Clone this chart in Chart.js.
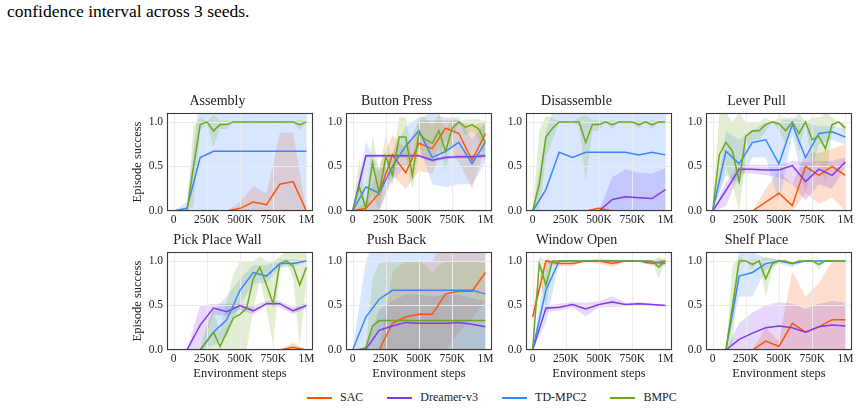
<!DOCTYPE html>
<html>
<head>
<meta charset="utf-8">
<script src="https://cdn.jsdelivr.net/npm/chart.js@4.4.1/dist/chart.umd.min.js"></script>
<style>
  body { margin: 0; width: 859px; height: 409px; background: #fff; position: relative; overflow: hidden; font-family: "Liberation Serif", serif; }
  canvas { position: absolute; }
  #caption { position: absolute; left: 7px; top: 1px; font-size: 17.5px; line-height: 20px; color: #000; white-space: nowrap; }
  #legend { position: absolute; left: 307px; top: 389px; display: flex; gap: 24px; font-size: 12px; color: #222; }
  .item { display: flex; align-items: center; gap: 8px; height: 17px; }
  .swatch { width: 25px; height: 2px; }
</style>
</head>
<body>
<div id="caption">confidence interval across 3 seeds.</div>
<div id="legend"></div>
<script>
// series
const seriesNames = ['SAC', 'Dreamer-v3', 'TD-MPC2', 'BMPC'];
const seriesColors = ['#fb5607', '#8338ec', '#3a86ff', '#6ca81e'];

// env steps (thousands); BMPC is logged every 50K, the baselines every 100K
const steps = [0, 100, 200, 300, 400, 500, 600, 700, 800, 900, 1000];
const stepsFine = [0, 50, 100, 150, 200, 250, 300, 350, 400, 450, 500, 550, 600, 650, 700, 750, 800, 850, 900, 950, 1000];
const xTicks = [0, 250, 500, 750, 1000];
const xTickLabels = ['0', '250K', '500K', '750K', '1M'];
const yTicks = [0, 0.5, 1.0];

// Assembly
const assemblySac     = [0, 0, 0, 0, 0, 0.03, 0.10, 0.07, 0.30, 0.33, 0];
const assemblySacLo   = [0, 0, 0, 0, 0, 0, 0, 0, 0, 0, 0];
const assemblySacHi   = [0, 0, 0, 0, 0, 0.10, 0.28, 0.20, 0.88, 0.88, 0];
const assemblyDv3     = [0, 0, 0, 0, 0, 0, 0, 0, 0, 0, 0];
const assemblyDv3Lo   = [0, 0, 0, 0, 0, 0, 0, 0, 0, 0, 0];
const assemblyDv3Hi   = [0, 0, 0, 0, 0, 0, 0, 0, 0, 0, 0];
const assemblyTd      = [0, 0.03, 0.60, 0.67, 0.67, 0.67, 0.67, 0.67, 0.67, 0.67, 0.67];
const assemblyTdLo    = [0, 0, 0, 0, 0, 0, 0, 0, 0, 0, 0];
const assemblyTdHi    = [0, 0.10, 1.33, 1.33, 1.33, 1.33, 1.33, 1.33, 1.33, 1.33, 1.33];
const assemblyBmpc    = [0, 0, 0, 0.50, 0.97, 1, 0.90, 0.97, 0.97, 1, 1, 1, 1, 1, 1, 1, 1, 1, 1, 0.97, 1];
const assemblyBmpcLo  = [0, 0, 0, 0.05, 0.90, 1, 0.72, 0.92, 0.92, 1, 1, 1, 1, 1, 1, 1, 1, 1, 1, 0.90, 1];
const assemblyBmpcHi  = [0, 0, 0, 0.95, 1.05, 1, 1.08, 1.02, 1.02, 1, 1, 1, 1, 1, 1, 1, 1, 1, 1, 1.03, 1];

// Button Press
const buttonSac       = [0, 0.03, 0.20, 0.63, 0.43, 0.76, 0.70, 0.93, 0.87, 0.57, 0.87];
const buttonSacLo     = [0, 0, 0, 0.40, 0.25, 0.45, 0.42, 0.80, 0.55, 0.25, 0.70];
const buttonSacHi     = [0, 0.10, 0.50, 0.85, 0.70, 1.02, 1.02, 1.02, 1.02, 0.95, 1.02];
const buttonDv3       = [0, 0.62, 0.62, 0.62, 0.62, 0.62, 0.57, 0.60, 0.61, 0.61, 0.62];
const buttonDv3Lo     = [0, 0.60, 0.60, 0.60, 0.60, 0.60, 0.55, 0.58, 0.59, 0.59, 0.60];
const buttonDv3Hi     = [0, 0.64, 0.64, 0.64, 0.64, 0.64, 0.59, 0.62, 0.63, 0.63, 0.64];
const buttonTd        = [0, 0.27, 0.20, 0.50, 0.73, 0.90, 0.60, 0.67, 0.77, 0.53, 0.77];
const buttonTdLo      = [0, 0, 0, 0.35, 0.50, 0.75, 0.30, 0.27, 0.30, 0.30, 0.55];
const buttonTdHi      = [0, 0.78, 0.45, 0.65, 0.95, 1.05, 1.10, 1.05, 1.05, 0.80, 1.00];
const buttonBmpc      = [0, 0.27, 0.03, 0.54, 0.20, 0.61, 0.40, 0.83, 0.83, 0.40, 0.87, 0.80, 0.76, 0.90, 0.67, 0.93, 1.00, 0.94, 0.97, 0.92, 0.77];
const buttonBmpcLo    = [0, 0, 0, 0.20, 0, 0.40, 0.30, 0.60, 0.60, 0.25, 0.65, 0.60, 0.60, 0.70, 0.45, 0.80, 1.00, 0.85, 0.90, 0.80, 0.55];
const buttonBmpcHi    = [0, 0.60, 0.10, 0.85, 0.45, 0.85, 0.55, 1.05, 1.05, 0.60, 1.05, 1.05, 0.95, 1.10, 0.90, 1.05, 1.00, 1.03, 1.03, 1.03, 1.00];

// Disassemble
const disSac          = [0, 0, 0, 0, 0, 0.03, 0, 0, 0, 0, 0];
const disSacLo        = [0, 0, 0, 0, 0, 0, 0, 0, 0, 0, 0];
const disSacHi        = [0, 0, 0, 0, 0, 0.05, 0, 0, 0, 0, 0];
const disDv3          = [0, 0, 0, 0, 0, 0, 0.13, 0.16, 0.15, 0.14, 0.24];
const disDv3Lo        = [0, 0, 0, 0, 0, 0, 0, 0, 0, 0, 0];
const disDv3Hi        = [0, 0, 0, 0, 0, 0, 0.38, 0.47, 0.43, 0.42, 0.48];
const disTd           = [0, 0.24, 0.66, 0.60, 0.66, 0.66, 0.66, 0.66, 0.63, 0.66, 0.63];
const disTdLo         = [0, 0, 0, 0, 0, 0, 0, 0, 0, 0, 0];
const disTdHi         = [0, 0.90, 1.33, 1.33, 1.33, 1.33, 1.33, 1.33, 1.33, 1.33, 1.33];
const disBmpc         = [0, 0.30, 0.83, 0.93, 1, 1, 1, 1, 0.77, 0.97, 0.97, 1, 0.97, 1, 1, 1, 0.97, 1, 0.97, 1, 1];
const disBmpcLo       = [0, 0, 0.60, 0.80, 1, 1, 1, 0.95, 0.33, 0.90, 0.90, 1, 0.92, 1, 1, 1, 0.92, 1, 0.92, 1, 1];
const disBmpcHi       = [0, 0.90, 1.07, 1.05, 1, 1, 1, 1.05, 1.08, 1.02, 1.02, 1, 1.02, 1, 1, 1, 1.02, 1, 1.02, 1, 1];

// Lever Pull
const leverSac        = [0, 0, 0, 0, 0.10, 0.20, 0.06, 0.50, 0.40, 0.50, 0.40];
const leverSacLo      = [0, 0, 0, 0, 0, 0, 0, 0.20, 0.08, 0.15, 0];
const leverSacHi      = [0, 0, 0, 0, 0.25, 0.45, 0.30, 0.65, 0.65, 0.70, 0.75];
const leverDv3        = [0, 0.23, 0.47, 0.47, 0.46, 0.46, 0.51, 0.33, 0.47, 0.40, 0.55];
const leverDv3Lo      = [0, 0.05, 0.42, 0.42, 0.40, 0.38, 0.30, 0.12, 0.30, 0.25, 0.50];
const leverDv3Hi      = [0, 0.32, 0.52, 0.52, 0.52, 0.52, 0.56, 0.55, 0.56, 0.56, 0.60];
const leverTd         = [0, 0.67, 0.53, 0.77, 0.80, 0.53, 0.97, 0.60, 0.87, 0.89, 0.83];
const leverTdLo       = [0, 0.40, 0.30, 0.60, 0.60, 0.10, 0.85, 0.20, 0.75, 0.80, 0.75];
const leverTdHi       = [0, 0.90, 0.80, 0.90, 1.00, 1.00, 1.05, 1.00, 0.95, 0.95, 0.92];
const leverBmpc       = [0, 0.63, 0.77, 0.67, 0.33, 0.84, 0.90, 0.90, 0.97, 1.00, 0.98, 0.90, 1.00, 0.87, 1.00, 0.80, 0.84, 0.70, 0.97, 1.00, 0.93];
const leverBmpcLo     = [0, 0.20, 0.50, 0.30, 0, 0.60, 0.80, 0.80, 0.90, 1.00, 0.90, 0.75, 1.00, 0.65, 1.00, 0.50, 0.55, 0.30, 0.90, 1.00, 0.85];
const leverBmpcHi     = [0, 1.10, 1.10, 1.00, 1.10, 1.00, 1.00, 1.00, 1.05, 1.00, 1.05, 1.05, 1.00, 1.10, 1.00, 1.05, 1.05, 1.10, 1.05, 1.00, 1.00];

// Pick Place Wall
const pickSac         = [0, 0, 0, 0, 0, 0, 0, 0, 0, 0.03, 0];
const pickSacLo       = [0, 0, 0, 0, 0, 0, 0, 0, 0, 0, 0];
const pickSacHi       = [0, 0, 0, 0, 0, 0, 0, 0, 0, 0.08, 0];
const pickDv3         = [0, 0, 0.28, 0.47, 0.43, 0.50, 0.44, 0.52, 0.52, 0.44, 0.50];
const pickDv3Lo       = [0, 0, 0, 0.40, 0.38, 0.45, 0.40, 0.50, 0.48, 0.40, 0.47];
const pickDv3Hi       = [0, 0, 0.50, 0.52, 0.52, 0.52, 0.50, 0.55, 0.55, 0.48, 0.53];
const pickTd          = [0, 0, 0, 0.20, 0.34, 0.67, 0.87, 0.83, 0.97, 0.97, 1.00];
const pickTdLo        = [0, 0, 0, 0.05, 0.15, 0.50, 0.75, 0.75, 0.93, 0.93, 1.00];
const pickTdHi        = [0, 0, 0, 0.45, 0.60, 0.80, 0.95, 0.95, 1.02, 1.02, 1.00];
const pickBmpc        = [0, 0, 0, 0, 0, 0.10, 0.20, 0.04, 0.20, 0.36, 0.40, 0.47, 0.80, 0.93, 0.73, 0.52, 0.97, 1.00, 0.94, 0.73, 0.93];
const pickBmpcLo      = [0, 0, 0, 0, 0, 0, 0, 0, 0, 0, 0, 0, 0.45, 0.80, 0.45, 0.05, 0.90, 1.00, 0.80, 0.05, 0.75];
const pickBmpcHi      = [0, 0, 0, 0, 0, 0.30, 0.45, 0.20, 0.55, 0.85, 1.00, 1.00, 1.00, 1.05, 1.00, 1.00, 1.05, 1.10, 1.10, 1.15, 1.10];

// Push Back
const pushSac         = [0, 0, 0, 0.30, 0.37, 0.40, 0.40, 0.63, 0.66, 0.66, 0.87];
const pushSacLo       = [0, 0, 0, 0, 0, 0, 0, 0, 0.20, 0.35, 0.55];
const pushSacHi       = [0, 0, 0, 0.88, 1.00, 1.00, 1.00, 1.25, 1.30, 1.30, 1.30];
const pushDv3         = [0, 0.01, 0.22, 0.27, 0.31, 0.30, 0.30, 0.30, 0.31, 0.29, 0.26];
const pushDv3Lo       = [0, 0, 0, 0, 0, 0, 0, 0, 0, 0, 0];
const pushDv3Hi       = [0, 0.03, 0.45, 0.55, 0.62, 0.62, 0.60, 0.62, 0.62, 0.58, 0.55];
const pushTd          = [0, 0.37, 0.57, 0.67, 0.67, 0.67, 0.67, 0.67, 0.67, 0.67, 0.63];
const pushTdLo        = [0, 0, 0, 0, 0, 0, 0, 0, 0, 0, 0];
const pushTdHi        = [0, 1.00, 1.33, 1.33, 1.33, 1.33, 1.33, 1.33, 1.33, 1.33, 1.33];
const pushBmpc        = [0, 0, 0.03, 0.27, 0.33, 0.33, 0.33, 0.33, 0.33, 0.33, 0.33, 0.33, 0.33, 0.33, 0.33, 0.33, 0.33, 0.33, 0.33, 0.33, 0.33];
const pushBmpcLo      = [0, 0, 0, 0, 0, 0, 0, 0, 0, 0, 0, 0, 0, 0, 0, 0, 0, 0, 0, 0, 0];
const pushBmpcHi      = [0, 0, 0.05, 0.80, 0.97, 1.00, 1.00, 1.00, 1.00, 1.00, 1.00, 0.95, 0.86, 0.95, 1.00, 1.00, 1.00, 1.00, 1.00, 1.00, 1.00];

// Window Open
const windowSac       = [0.37, 1.00, 0.97, 0.97, 1.00, 1.00, 0.97, 1.00, 1.00, 0.97, 1.00];
const windowSacLo     = [0.25, 0.97, 0.94, 0.94, 1.00, 0.97, 0.93, 1.00, 1.00, 0.94, 0.97];
const windowSacHi     = [0.50, 1.03, 1.00, 1.00, 1.00, 1.03, 1.01, 1.00, 1.00, 1.00, 1.03];
const windowDv3       = [0, 0.47, 0.48, 0.51, 0.46, 0.51, 0.54, 0.51, 0.52, 0.51, 0.50];
const windowDv3Lo     = [0, 0.43, 0.44, 0.48, 0.38, 0.48, 0.48, 0.49, 0.50, 0.50, 0.49];
const windowDv3Hi     = [0, 0.50, 0.52, 0.54, 0.53, 0.55, 0.60, 0.53, 0.54, 0.52, 0.51];
const windowTd        = [0, 0.67, 1.00, 1.00, 1.00, 1.00, 1.00, 1.00, 1.00, 0.99, 0.97];
const windowTdLo      = [0, 0.30, 1.00, 1.00, 1.00, 1.00, 1.00, 1.00, 1.00, 0.97, 0.94];
const windowTdHi      = [0, 0.97, 1.00, 1.00, 1.00, 1.00, 1.00, 1.00, 1.00, 1.00, 1.00];
const windowBmpc      = [0, 0.97, 0.73, 1, 1, 1, 1, 1, 1, 1, 1, 1, 1, 1, 1, 1, 1, 1, 1, 0.93, 1];
const windowBmpcLo    = [0, 0.88, 0.45, 1, 1, 1, 1, 1, 1, 1, 1, 1, 1, 1, 1, 1, 1, 1, 1, 0.80, 1];
const windowBmpcHi    = [0, 1.05, 1.00, 1, 1, 1, 1, 1, 1, 1, 1, 1, 1, 1, 1, 1, 1, 1, 1, 1.05, 1];

// Shelf Place
const shelfSac        = [0, 0, 0, 0, 0.10, 0.04, 0.30, 0.20, 0.26, 0.34, 0.34];
const shelfSacLo      = [0, 0, 0, 0, 0, 0, 0, 0, 0, 0, 0];
const shelfSacHi      = [0, 0, 0, 0, 0.25, 0.10, 0.88, 0.60, 0.75, 1.00, 1.00];
const shelfDv3        = [0, 0, 0.12, 0.19, 0.25, 0.27, 0.25, 0.20, 0.26, 0.28, 0.27];
const shelfDv3Lo      = [0, 0, 0, 0, 0, 0, 0, 0, 0, 0, 0];
const shelfDv3Hi      = [0, 0, 0.30, 0.42, 0.50, 0.54, 0.52, 0.46, 0.52, 0.55, 0.53];
const shelfTd         = [0, 0, 0.83, 0.87, 0.97, 1.00, 0.97, 1.00, 1.00, 1.00, 1.00];
const shelfTdLo       = [0, 0, 0.60, 0.60, 0.90, 0.97, 0.93, 1.00, 1.00, 1.00, 1.00];
const shelfTdHi       = [0, 0, 1.10, 1.10, 1.03, 1.02, 1.00, 1.00, 1.00, 1.00, 1.00];
const shelfBmpc       = [0, 0, 0, 0.50, 1.00, 1.00, 0.96, 1.00, 0.80, 0.97, 1.00, 1.00, 0.97, 1.00, 1.00, 1.00, 0.96, 1.00, 1.00, 1.00, 1.00];
const shelfBmpcLo     = [0, 0, 0, 0.05, 0.95, 1.00, 0.90, 1.00, 0.60, 0.90, 1.00, 1.00, 0.95, 1.00, 1.00, 1.00, 0.90, 1.00, 1.00, 1.00, 1.00];
const shelfBmpcHi     = [0, 0, 0, 0.95, 1.05, 1.00, 1.02, 1.00, 1.05, 1.03, 1.00, 1.00, 1.00, 1.00, 1.00, 1.00, 1.02, 1.00, 1.00, 1.00, 1.00];

const panels = [
  { title: 'Assembly', series: [[assemblySac, assemblySacLo, assemblySacHi], [assemblyDv3, assemblyDv3Lo, assemblyDv3Hi], [assemblyTd, assemblyTdLo, assemblyTdHi], [assemblyBmpc, assemblyBmpcLo, assemblyBmpcHi]] },
  { title: 'Button Press', series: [[buttonSac, buttonSacLo, buttonSacHi], [buttonDv3, buttonDv3Lo, buttonDv3Hi], [buttonTd, buttonTdLo, buttonTdHi], [buttonBmpc, buttonBmpcLo, buttonBmpcHi]] },
  { title: 'Disassemble', series: [[disSac, disSacLo, disSacHi], [disDv3, disDv3Lo, disDv3Hi], [disTd, disTdLo, disTdHi], [disBmpc, disBmpcLo, disBmpcHi]] },
  { title: 'Lever Pull', series: [[leverSac, leverSacLo, leverSacHi], [leverDv3, leverDv3Lo, leverDv3Hi], [leverTd, leverTdLo, leverTdHi], [leverBmpc, leverBmpcLo, leverBmpcHi]] },
  { title: 'Pick Place Wall', series: [[pickSac, pickSacLo, pickSacHi], [pickDv3, pickDv3Lo, pickDv3Hi], [pickTd, pickTdLo, pickTdHi], [pickBmpc, pickBmpcLo, pickBmpcHi]] },
  { title: 'Push Back', series: [[pushSac, pushSacLo, pushSacHi], [pushDv3, pushDv3Lo, pushDv3Hi], [pushTd, pushTdLo, pushTdHi], [pushBmpc, pushBmpcLo, pushBmpcHi]] },
  { title: 'Window Open', series: [[windowSac, windowSacLo, windowSacHi], [windowDv3, windowDv3Lo, windowDv3Hi], [windowTd, windowTdLo, windowTdHi], [windowBmpc, windowBmpcLo, windowBmpcHi]] },
  { title: 'Shelf Place', series: [[shelfSac, shelfSacLo, shelfSacHi], [shelfDv3, shelfDv3Lo, shelfDv3Hi], [shelfTd, shelfTdLo, shelfTdHi], [shelfBmpc, shelfBmpcLo, shelfBmpcHi]] },
];

// layout of the 2x4 grid (plot areas)
const plotLefts = [167, 346, 526, 706];
const plotTops = [113, 252];
const plotW = 146, plotH = 98;
const padL = 45, padT = 23, padB = 40, padR = 10;

const fontFamily = '"Liberation Serif", "Times New Roman", serif';
const textColor = '#222';
const gridColor = '#ebebeb';

function withAlpha(hex, a) {
  const n = parseInt(hex.slice(1), 16);
  return `rgba(${(n >> 16) & 255}, ${(n >> 8) & 255}, ${n & 255}, ${a})`;
}

// grid goes above the CI bands but under the mean lines (like matplotlib)
const gridAboveBands = {
  id: 'gridAboveBands',
  afterDatasetDraw(chart, args) {
    if (!chart.data.datasets[args.index].gridAfter) return;
    const { ctx, chartArea: a, scales: { x, y } } = chart;
    ctx.save();
    ctx.strokeStyle = gridColor;
    ctx.lineWidth = 1;
    ctx.beginPath();
    xTicks.forEach(v => {
      const px = Math.round(x.getPixelForValue(v)) + 0.5;
      ctx.moveTo(px, a.top); ctx.lineTo(px, a.bottom);
    });
    yTicks.forEach(v => {
      const py = Math.round(y.getPixelForValue(v)) + 0.5;
      ctx.moveTo(a.left, py); ctx.lineTo(a.right, py);
    });
    ctx.stroke();
    ctx.restore();
  }
};

// full box spines
const frame = {
  id: 'frame',
  afterDraw(chart) {
    const { ctx, chartArea: a } = chart;
    ctx.save();
    ctx.strokeStyle = '#3a3a3a';
    ctx.lineWidth = 1.1;
    ctx.strokeRect(a.left + 0.5, a.top + 0.5, a.right - a.left - 1, a.bottom - a.top - 1);
    ctx.restore();
  }
};

function buildPanel(panel, idx) {
  const col = idx % 4, row = Math.floor(idx / 4);
  const canvas = document.createElement('canvas');
  canvas.width = padL + plotW + padR;
  canvas.height = padT + plotH + padB;
  canvas.style.left = (plotLefts[col] - padL) + 'px';
  canvas.style.top = (plotTops[row] - padT) + 'px';
  document.body.appendChild(canvas);

  const lines = [], bands = [];
  panel.series.forEach(([mean, lo, hi], i) => {
    const xs = i === 3 ? stepsFine : steps;
    const pts = arr => arr.map((v, j) => ({ x: xs[j], y: v }));
    lines.push({
      label: seriesNames[i], data: pts(mean),
      borderColor: seriesColors[i], borderWidth: 1.5,
      pointRadius: 0, fill: false, order: 3 - i
    });
    bands.push({
      label: seriesNames[i] + ' upper', data: pts(hi),
      borderColor: 'rgba(0,0,0,0)', borderWidth: 0, pointRadius: 0,
      backgroundColor: withAlpha(seriesColors[i], 0.2),
      fill: '+1', order: 13 - i, gridAfter: i === 3
    });
    bands.push({
      label: seriesNames[i] + ' lower', data: pts(lo),
      borderColor: 'rgba(0,0,0,0)', borderWidth: 0, pointRadius: 0,
      fill: false, order: 13 - i
    });
  });

  const tickFont = { family: fontFamily, size: 11.5 };
  const labelFont = { family: fontFamily, size: 12.5 };

  new Chart(canvas, {
    type: 'line',
    data: { datasets: lines.concat(bands) },
    options: {
      responsive: false,
      animation: false,
      layout: { padding: { left: 0, top: 0, right: padR, bottom: 0 } },
      plugins: {
        legend: { display: false },
        tooltip: { enabled: false },
        title: {
          display: true, text: panel.title, color: textColor,
          font: { family: fontFamily, size: 14, weight: 'normal', lineHeight: '17px' },
          padding: { top: 3, bottom: 3 }
        }
      },
      scales: {
        x: {
          type: 'linear', min: -50, max: 1050,
          afterBuildTicks: s => { s.ticks = xTicks.map(v => ({ value: v })); },
          afterFit: s => { s.height = padB; },
          grid: { display: false, drawTicks: false },
          border: { display: false },
          ticks: {
            padding: 2, autoSkip: false, maxRotation: 0, color: textColor, font: tickFont,
            callback: v => xTickLabels[xTicks.indexOf(v)]
          },
          title: {
            display: row === 1, text: 'Environment steps', color: textColor, font: labelFont,
            padding: { top: 0, bottom: 9 }
          }
        },
        y: {
          type: 'linear', min: 0, max: 1.1,
          afterBuildTicks: s => { s.ticks = yTicks.map(v => ({ value: v })); },
          afterFit: s => { s.width = padL; },
          grid: { display: false, drawTicks: false },
          border: { display: false },
          ticks: { padding: 4, color: textColor, font: tickFont, callback: v => v.toFixed(1) },
          title: {
            display: col === 0, text: 'Episode success', color: textColor, font: labelFont,
            padding: { top: 8, bottom: 0 }
          }
        }
      }
    },
    plugins: [gridAboveBands, frame]
  });
}

panels.forEach(buildPanel);

// shared legend under the grid
const legendEl = document.getElementById('legend');
seriesNames.forEach((name, i) => {
  const item = document.createElement('div');
  item.className = 'item';
  item.innerHTML = `<span class="swatch" style="background:${seriesColors[i]}"></span><span>${name}</span>`;
  legendEl.appendChild(item);
});
</script>
</body>
</html>
